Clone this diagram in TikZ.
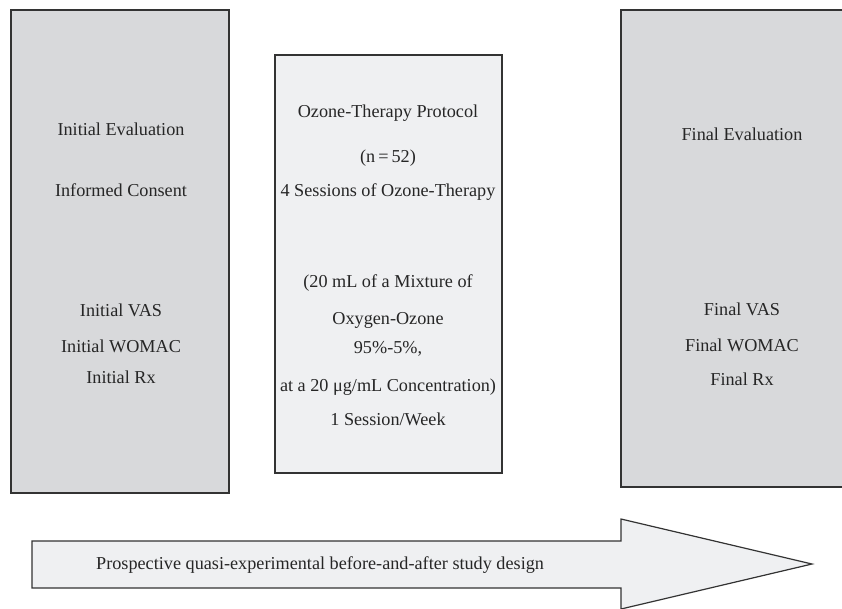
\documentclass[tikz,border=0pt]{standalone}
\usepackage{fontspec}
\setmainfont{Liberation Serif}
\begin{document}
\begin{tikzpicture}[x=1pt,y=-1pt,
  darkbox/.style={draw=black!80,line width=1.2pt,fill=boxgray},
  lightbox/.style={draw=black!80,line width=1.2pt,fill=boxlight},
  lbl/.style={font=\fontsize{18.2}{21}\selectfont,text=black!85,inner sep=0pt,anchor=base}]
\definecolor{boxgray}{HTML}{D8D9DB}
\definecolor{boxlight}{HTML}{EFF0F2}
\useasboundingbox (0,0) rectangle (842,608);
% boxes
\path[darkbox] (11,10) rectangle (229,493);
\node[inner sep=0pt] (left) at (120,251) {};
\path[lightbox] (275,55) rectangle (502,473);
\node[inner sep=0pt] (mid) at (388,264) {};
\path[darkbox] (621,10) rectangle (846,487);
\node[inner sep=0pt] (right) at (731,248) {};
% arrow
\path[lightbox] (32,541) -- (621,541) -- (621,519) -- (812,564) -- (621,609) -- (621,588) -- (32,588) -- cycle;
% left texts
\node[lbl] (l1) at (121,135) {Initial Evaluation};
\node[lbl] (l2) at (121,196) {Informed Consent};
\node[lbl] (l3) at (121,316) {Initial VAS};
\node[lbl] (l4) at (121,352) {Initial WOMAC};
\node[lbl] (l5) at (121,383) {Initial Rx};
% middle texts
\node[lbl] (m1) at (388,117) {Ozone-Therapy Protocol};
\node[lbl] (m2) at (388,162) {(n\,=\,52)};
\node[lbl] (m3) at (388,196) {4 Sessions of Ozone-Therapy};
\node[lbl] (m4) at (388,287) {(20 mL of a Mixture of};
\node[lbl] (m5) at (388,324) {Oxygen-Ozone};
\node[lbl] (m6) at (388,353) {95\%-5\%,};
\node[lbl] (m7) at (388,391) {at a 20 μg/mL Concentration)};
\node[lbl] (m8) at (388,425) {1 Session/Week};
% right texts
\node[lbl] (r1) at (742,140) {Final Evaluation};
\node[lbl] (r2) at (742,315) {Final VAS};
\node[lbl] (r3) at (742,351) {Final WOMAC};
\node[lbl] (r4) at (742,385) {Final Rx};
% arrow text
\node[lbl,anchor=base west] (a1) at (96,569) {Prospective quasi-experimental before-and-after study design};
\end{tikzpicture}
\end{document}
